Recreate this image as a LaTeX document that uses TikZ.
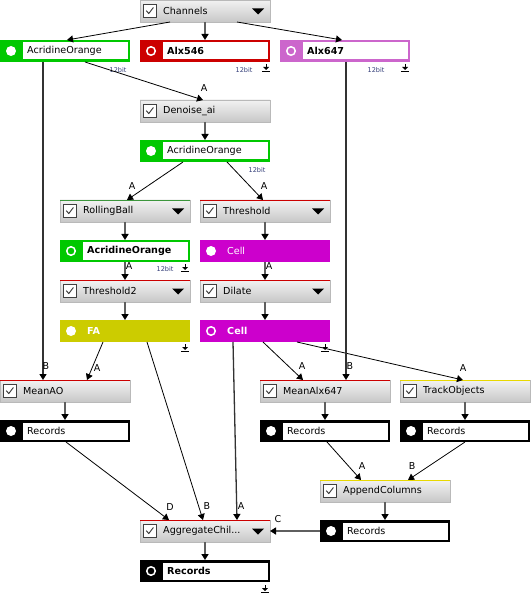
\documentclass[tikz,border=0pt]{standalone}
\usepackage{fontspec}
\setmainfont{DejaVu Sans}
\usetikzlibrary{arrows.meta,calc}
\definecolor{aogreen}{RGB}{0,200,0}
\definecolor{axred}{RGB}{204,0,0}
\definecolor{axorchid}{RGB}{204,102,204}
\definecolor{cellmag}{RGB}{204,0,204}
\definecolor{faolive}{RGB}{204,204,0}
\definecolor{lineyel}{RGB}{232,216,0}
\definecolor{linegreen}{RGB}{60,150,60}
\definecolor{bitblue}{RGB}{50,60,120}
\definecolor{procborder}{RGB}{185,185,185}
\definecolor{conngray}{RGB}{95,95,95}
\definecolor{conndark}{RGB}{50,50,50}
\tikzset{
 procbox/.style={rectangle, anchor=north west, minimum width=130pt, minimum height=22pt, inner sep=0, outer sep=0, draw=procborder, line width=0.8pt, top color=white!95!black, bottom color=white!78!black},
 databox/.style={rectangle, anchor=north west, minimum width=130pt, minimum height=22pt, inner sep=0, outer sep=0},
 chkbox/.style={rectangle, draw=black!75, fill=white, minimum size=13pt, inner sep=0, line width=0.7pt},
 lbl/.style={anchor=west, inner sep=0, font=\fontsize{9.6}{11}\selectfont},
 dotfill/.style={circle, fill=white, minimum size=10pt, inner sep=0},
 dotring/.style={circle, draw=white, line width=1.5pt, minimum size=8.5pt, inner sep=0},
 edge/.style={line width=0.8pt, -{Triangle[length=6pt,width=7pt]}},
 ledge/.style={line width=1.3pt, draw=conndark, -{Triangle[length=6pt,width=7pt,color=black]}},
 vedge/.style={line width=1.7pt, draw=conngray, -{Triangle[length=6pt,width=7pt,color=black]}},
 elabel/.style={font=\fontsize{9.5}{10}\selectfont, inner sep=0},
 bitlabel/.style={font=\fontsize{6.5}{7}\selectfont, text=bitblue, inner sep=0},
}
\newcommand\procnode[5]{%
 \node[procbox] (#1) at (#2,#3) {};
 \draw[#5, line width=1pt] ([yshift=-0.5pt]#1.north west) -- ([yshift=-0.5pt]#1.north east);
 \node[chkbox] (#1-c) at ([xshift=10pt]#1.west) {};
 \draw[line width=0.9pt, black!80] ([xshift=-3.8pt,yshift=0.3pt]#1-c.center) -- ++(2.6pt,-2.8pt) -- ++(4.6pt,6pt);
 \node[lbl] (#1-t) at ([xshift=23pt]#1.west) {#4};
}
\newcommand\dropdown[1]{\fill ([xshift=-18pt,yshift=2.5pt]#1.east) -- ++(12pt,0pt) -- ++(-6pt,-6pt) -- cycle;}
\newcommand\databoxed[6]{%
 \node[databox, fill=#4] (#1) at (#2,#3) {};
 \fill[white] ([xshift=22.5pt,yshift=-2.5pt]#1.north west) rectangle ([xshift=-2.5pt,yshift=2.5pt]#1.south east);
 \node[#5] (#1-d) at ([xshift=11pt]#1.west) {};
 \node[lbl] (#1-t) at ([xshift=27pt]#1.west) {#6};
}
\newcommand\dataplain[6]{%
 \node[databox, fill=#4] (#1) at (#2,#3) {};
 \node[#5] (#1-d) at ([xshift=11pt]#1.west) {};
 \node[lbl, text=white] (#1-t) at ([xshift=27pt]#1.west) {#6};
}
\newcommand\dlicon[2]{%
 \coordinate (#1) at #2;
 \draw[line width=1pt] ([yshift=4pt]#1) -- ([yshift=0pt]#1);
 \fill ([xshift=-3pt,yshift=1pt]#1) -- ([xshift=3pt,yshift=1pt]#1) -- ([yshift=-2pt]#1) -- cycle;
 \draw[line width=1pt] ([xshift=-4pt,yshift=-3.5pt]#1) -- ([xshift=4pt,yshift=-3.5pt]#1);
}
\begin{document}
\begin{tikzpicture}[x=1pt,y=-1pt]
\fill[white] (0,0) rectangle (530,593);
\useasboundingbox (0,0) rectangle (530,593);
% nodes
\procnode{ch}{140}{0}{Channels}{procborder}\dropdown{ch}
\databoxed{ao1}{0}{40}{aogreen}{dotfill}{AcridineOrange}
\databoxed{a546}{140}{40}{axred}{dotring}{\bfseries Alx546}
\databoxed{a647}{280}{40}{axorchid}{dotring}{\bfseries Alx647}
\procnode{den}{140}{100}{Denoise\_ai}{procborder}
\databoxed{ao2}{140}{140}{aogreen}{dotfill}{AcridineOrange}
\procnode{rb}{60}{200}{RollingBall}{linegreen}\dropdown{rb}
\procnode{th}{200}{200}{Threshold}{axred}\dropdown{th}
\databoxed{ao3}{60}{240}{aogreen}{dotring}{\bfseries AcridineOrange}
\dataplain{cella}{200}{240}{cellmag}{dotfill}{Cell}
\procnode{thb}{60}{280}{Threshold2}{axred}\dropdown{thb}
\procnode{dil}{200}{280}{Dilate}{axred}\dropdown{dil}
\dataplain{fa}{60}{320}{faolive}{dotfill}{\bfseries FA}
\dataplain{cellb}{200}{320}{cellmag}{dotring}{\bfseries Cell}
\procnode{mao}{0}{380}{MeanAO}{axred}
\procnode{mx}{260}{380}{MeanAlx647}{axred}
\procnode{trk}{400}{380}{TrackObjects}{lineyel}
\databoxed{ra}{0}{420}{black}{dotfill}{Records}
\databoxed{rb2}{260}{420}{black}{dotfill}{Records}
\databoxed{rc}{400}{420}{black}{dotfill}{Records}
\procnode{app}{320}{480}{AppendColumns}{lineyel}
\databoxed{rd}{320}{520}{black}{dotfill}{Records}
\procnode{agg}{140}{520}{AggregateChil...}{axred}\dropdown{agg}
\databoxed{re}{140}{560}{black}{dotring}{\bfseries Records}
% bit labels and icons
\node[bitlabel] (b1) at (118,70) {12bit};
\node[bitlabel] (b2) at (244,70) {12bit};
\node[bitlabel] (b3) at (376,70) {12bit};
\node[bitlabel] (b4) at (257,170) {12bit};
\node[bitlabel] (b5) at (165,269) {12bit};
\dlicon{i1}{([xshift=-4pt,yshift=-6pt]a546.south east)}
\dlicon{i2}{([xshift=-5pt,yshift=-6pt]a647.south east)}
\dlicon{i3}{([xshift=-5pt,yshift=-6pt]ao3.south east)}
\dlicon{i4}{([xshift=-5pt,yshift=-6pt]fa.south east)}
\dlicon{i5}{([xshift=-5pt,yshift=-6pt]cellb.south east)}
\dlicon{i6}{([xshift=-5pt,yshift=-7pt]re.south east)}
% edges
\draw[edge] ([xshift=30pt]ch.south west) -- ([xshift=67pt]ao1.north west);
\draw[vedge] (ch.south) -- (a546.north);
\draw[edge] ([xshift=97pt]ch.south west) -- ([xshift=62pt]a647.north west);
\draw[edge] ([xshift=85pt]ao1.south west) -- ([xshift=63pt]den.north west);
\node[elabel] (l1) at (204,88) {A};
\draw[ledge] ([xshift=43pt]ao1.south west) -- ([xshift=43pt]mao.north west);
\node[elabel] (l2) at (46,366) {B};
\draw[vedge] (den.south) -- (ao2.north);
\draw[edge] ([xshift=43pt]ao2.south west) -- ([xshift=67pt]rb.north west);
\node[elabel] (l3) at (132,186) {A};
\draw[edge] ([xshift=87pt]ao2.south west) -- ([xshift=63pt]th.north west);
\node[elabel] (l4) at (264,186) {A};
\draw[vedge] (rb.south) -- (ao3.north);
\draw[vedge] (th.south) -- (cella.north);
\draw[vedge] (ao3.south) -- (thb.north);
\node[elabel] (l5) at (129,266) {A};
\draw[vedge] (cella.south) -- (dil.north);
\node[elabel] (l6) at (269,266) {A};
\draw[vedge] (thb.south) -- (fa.north);
\draw[vedge] (dil.south) -- (cellb.north);
\draw[edge] ([xshift=43pt]fa.south west) -- ([xshift=87pt]mao.north west);
\node[elabel] (l7) at (97,368) {A};
\draw[edge] ([xshift=87pt]fa.south west) -- ([xshift=63pt]agg.north west);
\node[elabel] (l8) at (207,506) {B};
\draw[ledge] ([xshift=33pt]cellb.south west) -- ([xshift=97pt]agg.north west);
\node[elabel] (l9) at (241,506) {A};
\draw[edge] ([xshift=63pt]cellb.south west) -- ([xshift=43pt]mx.north west);
\node[elabel] (l10) at (302,366) {A};
\draw[edge] ([xshift=97pt]cellb.south west) -- ([xshift=63pt]trk.north west);
\node[elabel] (l11) at (463,368) {A};
\draw[ledge] ([xshift=66pt]a647.south west) -- ([xshift=86pt]mx.north west);
\node[elabel] (l12) at (350,366) {B};
\draw[vedge] (mao.south) -- (ra.north);
\draw[vedge] (mx.south) -- (rb2.north);
\draw[vedge] (trk.south) -- (rc.north);
\draw[edge] ([xshift=66pt]ra.south west) -- ([xshift=29pt]agg.north west);
\node[elabel] (l13) at (170,507) {D};
\draw[edge] ([xshift=67pt]rb2.south west) -- ([xshift=41pt]app.north west);
\node[elabel] (l14) at (362,466) {A};
\draw[edge] ([xshift=65pt]rc.south west) -- ([xshift=88pt]app.north west);
\node[elabel] (l15) at (412,466) {B};
\draw[vedge] (app.south) -- (rd.north);
\draw[vedge] (rd.west) -- (agg.east);
\node[elabel] (l16) at (278,519) {C};
\draw[vedge] (agg.south) -- (re.north);
\end{tikzpicture}
\end{document}
